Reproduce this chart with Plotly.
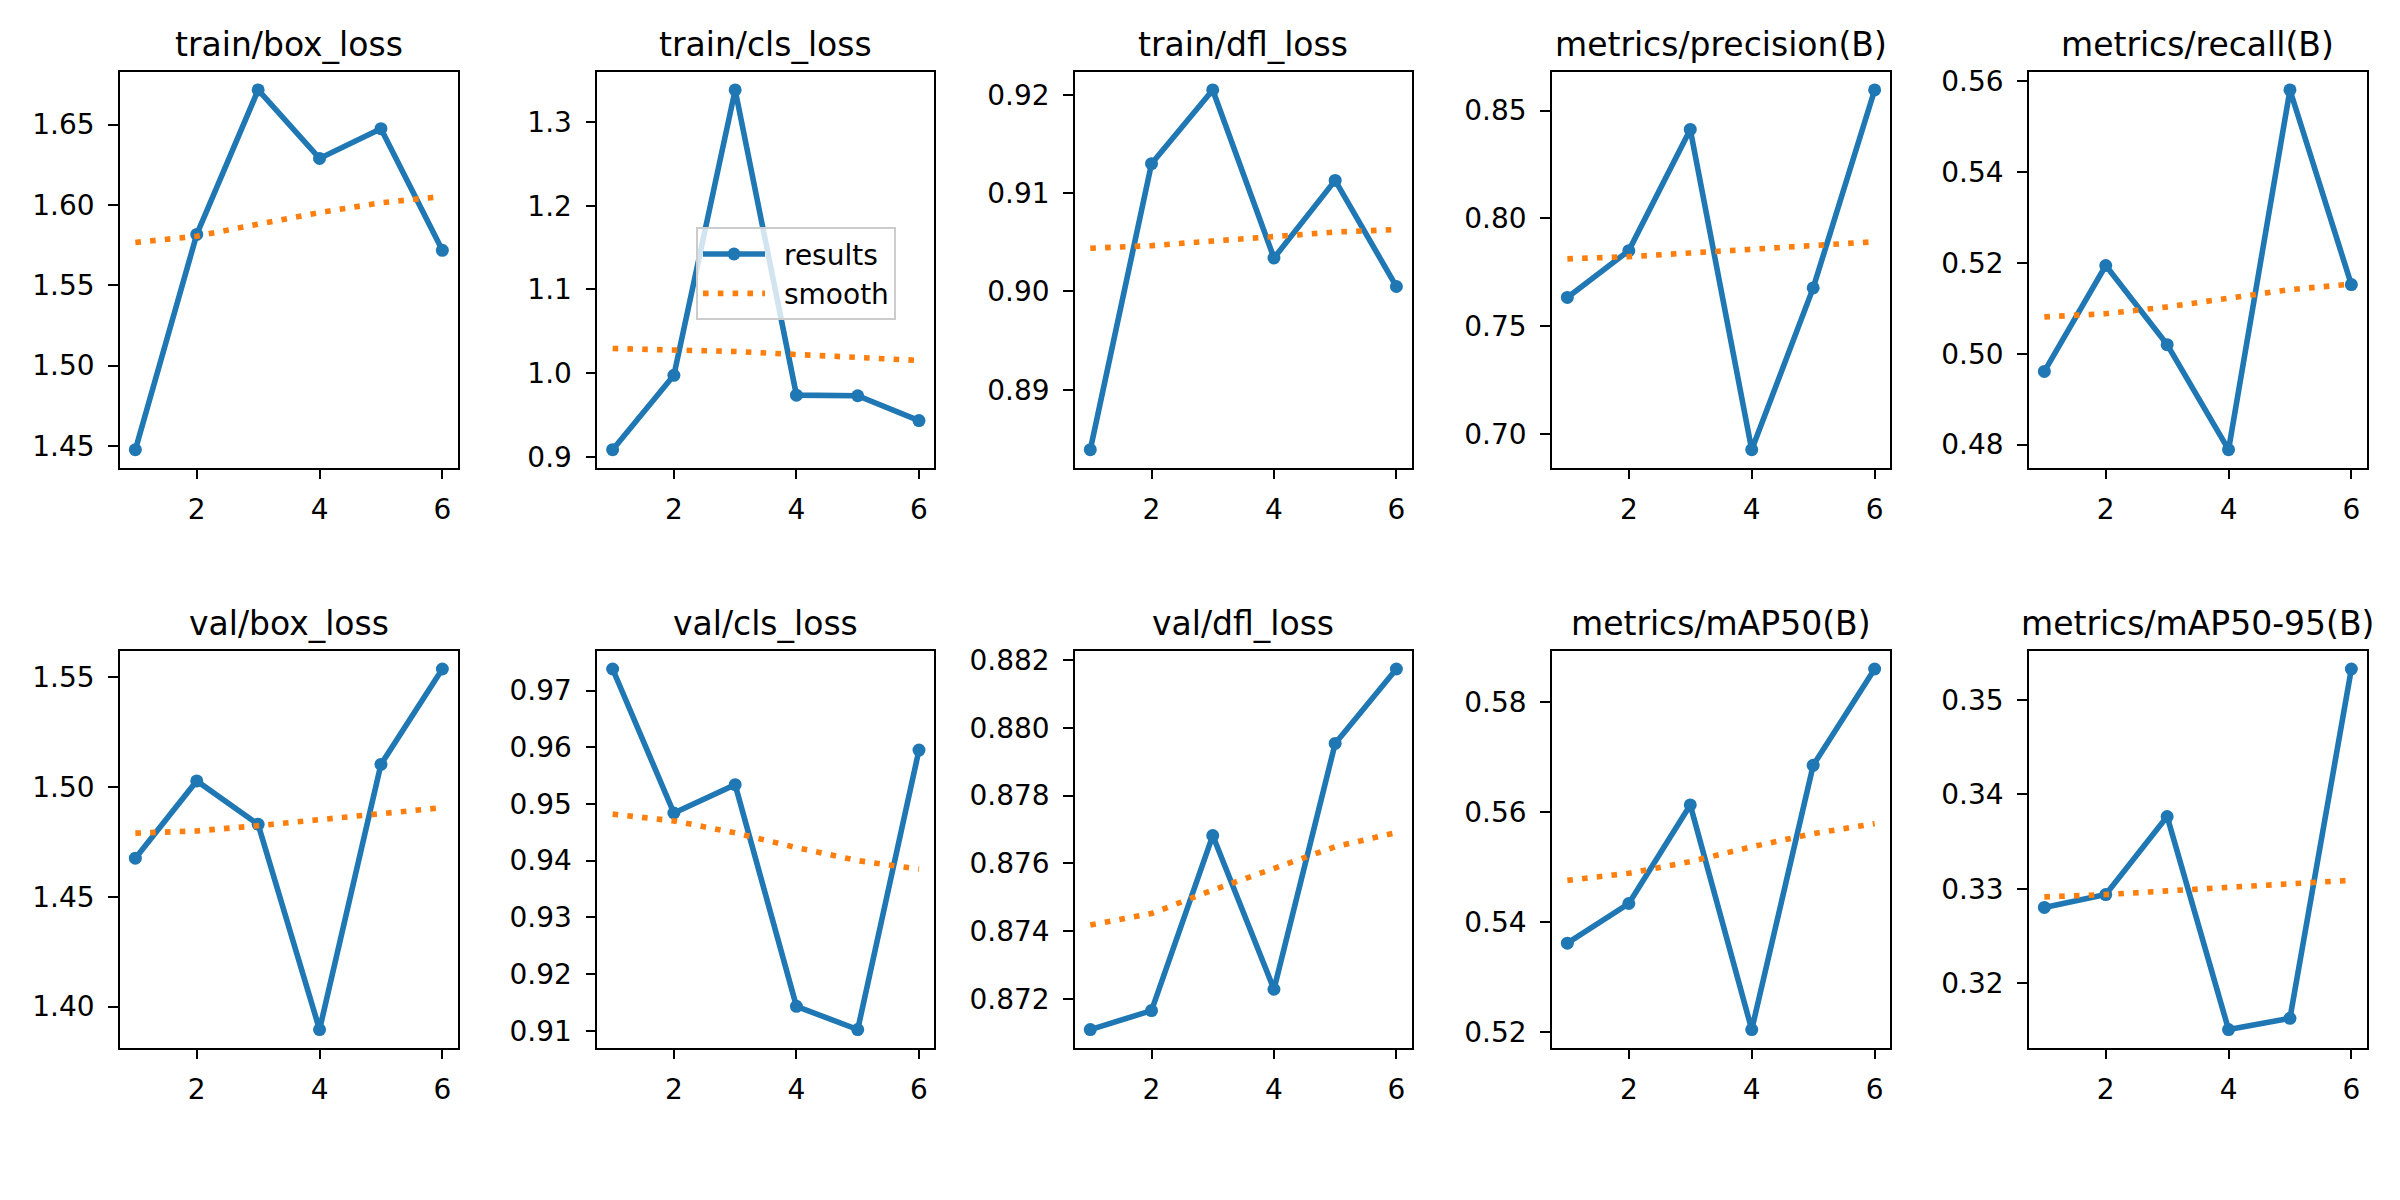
import plotly.graph_objects as go

# ---------------- data ----------------
epochs = [1, 2, 3, 4, 5, 6]

titles = ["train/box_loss", "train/cls_loss", "train/dfl_loss", "metrics/precision(B)", "metrics/recall(B)",
          "val/box_loss", "val/cls_loss", "val/dfl_loss", "metrics/mAP50(B)", "metrics/mAP50-95(B)"]
series_names = ["results", "smooth"]

train_box_loss = [1.4477, 1.5817, 1.6716, 1.6290, 1.6475, 1.5718]
train_cls_loss = [0.9087, 0.9975, 1.3383, 0.9738, 0.9731, 0.9434]
train_dfl_loss = [0.8839, 0.9130, 0.9205, 0.9034, 0.9113, 0.9005]
precision_b = [0.7634, 0.7851, 0.8413, 0.6928, 0.7678, 0.8596]
recall_b = [0.4961, 0.5194, 0.5020, 0.4789, 0.5580, 0.5152]
val_box_loss = [1.4676, 1.5028, 1.4830, 1.3895, 1.5103, 1.5538]
val_cls_loss = [0.9738, 0.9484, 0.9534, 0.9143, 0.9102, 0.9595]
val_dfl_loss = [0.87109, 0.87165, 0.87682, 0.87228, 0.87954, 0.88174]
map50_b = [0.5362, 0.5434, 0.5613, 0.5205, 0.5685, 0.5860]
map50_95_b = [0.32803, 0.32939, 0.33764, 0.31511, 0.31630, 0.35325]

smooth_train_box_loss = [1.5767, 1.5806, 1.5881, 1.5953, 1.6014, 1.6053]
smooth_train_cls_loss = [1.0295, 1.0283, 1.0260, 1.0224, 1.0185, 1.0153]
smooth_train_dfl_loss = [0.9044, 0.90466, 0.90513, 0.90564, 0.90604, 0.9063]
smooth_precision_b = [0.7813, 0.7823, 0.7840, 0.7859, 0.7877, 0.7892]
smooth_recall_b = [0.5081, 0.5088, 0.5103, 0.5123, 0.5141, 0.5153]
smooth_val_box_loss = [1.4790, 1.4800, 1.4824, 1.4853, 1.4883, 1.4906]
smooth_val_cls_loss = [0.9482, 0.9470, 0.9449, 0.9423, 0.9400, 0.9385]
smooth_val_dfl_loss = [0.87418, 0.87452, 0.87521, 0.87587, 0.87649, 0.87691]
smooth_map50_b = [0.5476, 0.5489, 0.5510, 0.5537, 0.5561, 0.5579]
smooth_map50_95_b = [0.32915, 0.32939, 0.32978, 0.33020, 0.33062, 0.33090]

x_ticks = [2, 4, 6]

# ---------------- styling / layout ----------------
results = [train_box_loss, train_cls_loss, train_dfl_loss, precision_b, recall_b,
           val_box_loss, val_cls_loss, val_dfl_loss, map50_b, map50_95_b]
smooths = [smooth_train_box_loss, smooth_train_cls_loss, smooth_train_dfl_loss, smooth_precision_b, smooth_recall_b,
           smooth_val_box_loss, smooth_val_cls_loss, smooth_val_dfl_loss, smooth_map50_b, smooth_map50_95_b]
y_dticks = [0.05, 0.1, 0.01, 0.05, 0.02, 0.05, 0.01, 0.002, 0.02, 0.01]
y_formats = [".2f", ".1f", ".2f", ".2f", ".2f", ".2f", ".2f", ".3f", ".2f", ".2f"]

W, H = 2400, 1200
col_px = [(120, 457.7), (597.3, 934.3), (1075, 1411.7), (1552, 1890), (2029, 2366.7)]
row_px = [(65.7, 465.7), (651, 1052)]

FONT = "DejaVu Sans"
BLUE = "#1f77b4"
ORANGE = "#ff7f0e"
LW = 5.6
GAP = "\u2002"  # spacing between legend handle and label

fig = go.Figure()
annotations = []
layout_axes = {}

for i in range(10):
    r, c = divmod(i, 5)
    ax_id = "" if i == 0 else str(i + 1)
    xref, yref = "x" + ax_id, "y" + ax_id
    fig.add_trace(go.Scatter(
        x=epochs, y=results[i], mode="lines+markers", name=GAP + series_names[0],
        line=dict(color=BLUE, width=LW), marker=dict(color=BLUE, size=13),
        xaxis=xref, yaxis=yref, showlegend=(i == 0), legendgroup="results"))
    fig.add_trace(go.Scatter(
        x=epochs, y=smooths[i], mode="lines", name=GAP + series_names[1],
        line=dict(color=ORANGE, width=LW, dash="5.6px,9.2px"),
        xaxis=xref, yaxis=yref, showlegend=(i == 0), legendgroup="smooth"))

    vals = results[i] + smooths[i]
    lo, hi = min(vals), max(vals)
    pad = (hi - lo) * 0.05
    x0, x1 = col_px[c]
    y0, y1 = row_px[r]
    xd = [x0 / W, x1 / W]
    yd = [1 - y1 / H, 1 - y0 / H]
    common = dict(showline=True, mirror=True, linecolor="black", linewidth=2.2,
                  ticks="outside", ticklen=9.7, tickwidth=2.2, tickcolor="black",
                  showgrid=False, zeroline=False,
                  tickfont=dict(family=FONT, size=28, color="black"))
    layout_axes["xaxis" + ax_id] = dict(domain=xd, range=[0.75, 6.25], tickvals=x_ticks,
                                        anchor=yref, ticklabelstandoff=6, **common)
    layout_axes["yaxis" + ax_id] = dict(domain=yd, range=[lo - pad, hi + pad], tick0=0,
                                        dtick=y_dticks[i], tickformat=y_formats[i],
                                        anchor=xref, ticklabelstandoff=8, **common)
    annotations.append(dict(text=titles[i], xref="paper", yref="paper",
                            x=(xd[0] + xd[1]) / 2, y=yd[1], xanchor="center", yanchor="bottom",
                            yshift=6, showarrow=False,
                            font=dict(family=FONT, size=33, color="black")))

fig.update_layout(
    width=W, height=H, autosize=False,
    margin=dict(l=0, r=0, t=0, b=0),
    paper_bgcolor="white", plot_bgcolor="white",
    font=dict(family=FONT, color="black"),
    annotations=annotations,
    legend=dict(x=696 / W, y=1 - 222.7 / H, xanchor="left", yanchor="top",
                bgcolor="rgba(255,255,255,0.8)", bordercolor="#cccccc", borderwidth=2,
                itemwidth=62, tracegroupgap=0,
                font=dict(family=FONT, size=28, color="black")),
    **layout_axes,
)

fig.write_html("out.html")
